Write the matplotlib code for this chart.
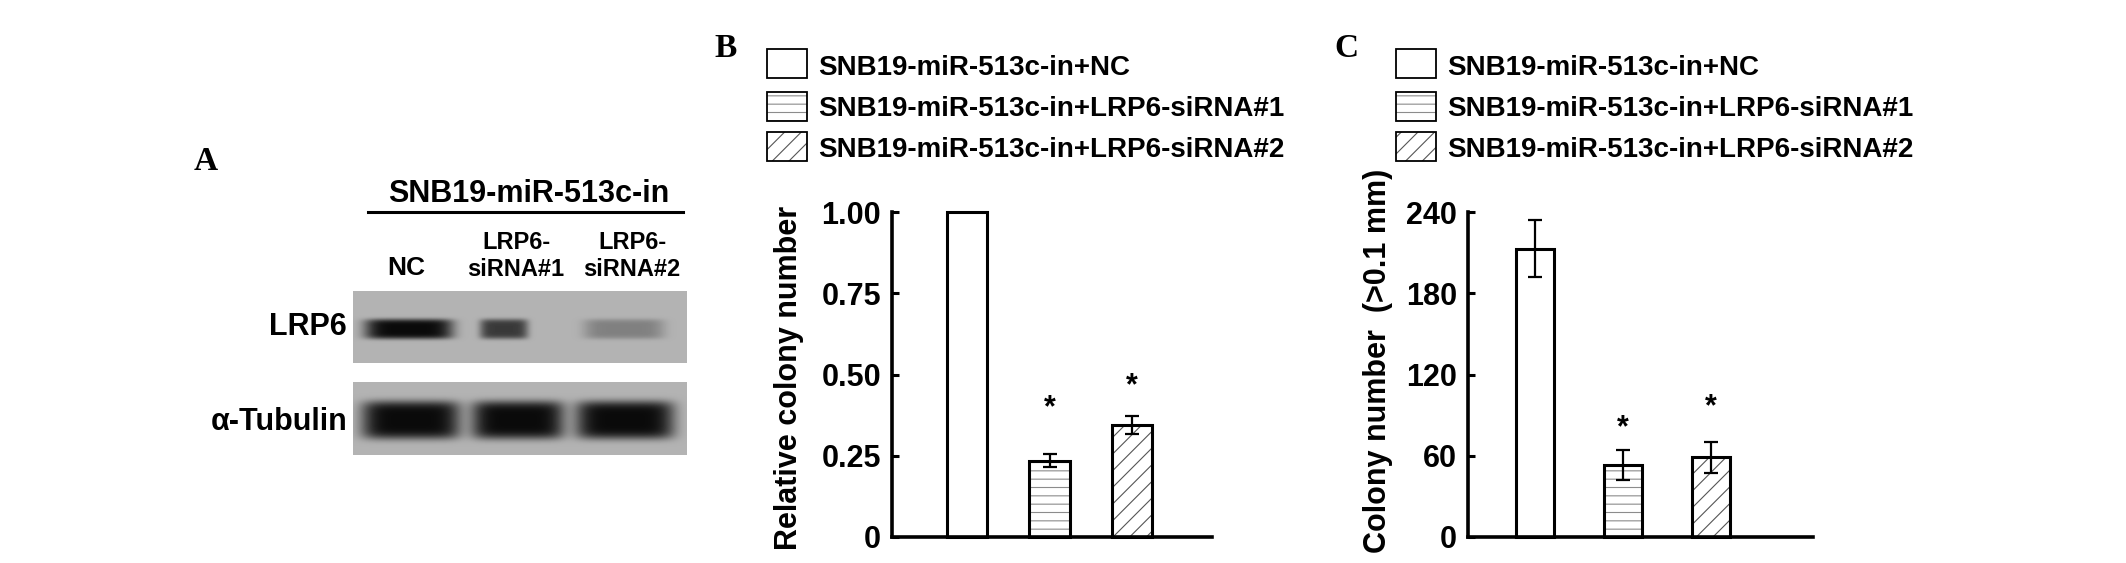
import numpy as np
import matplotlib
matplotlib.use("Agg")
import matplotlib.pyplot as plt
from matplotlib.patches import Rectangle

plt.rcParams['font.family'] = ['Liberation Sans', 'DejaVu Sans']
plt.rcParams['font.weight'] = 'bold'
plt.rcParams['hatch.linewidth'] = 0.8

# ---- data ----
groups = ["SNB19-miR-513c-in+NC",
          "SNB19-miR-513c-in+LRP6-siRNA#1",
          "SNB19-miR-513c-in+LRP6-siRNA#2"]
rel_colony = [1.0, 0.235, 0.345]
rel_err = [0.0, 0.021, 0.028]
colony_num = [213, 53, 59]
colony_err = [21, 11, 11.5]
significant = [False, True, True]

rel_ticks = [0, 0.25, 0.50, 0.75, 1.00]
rel_ticklabels = ["0", "0.25", "0.50", "0.75", "1.00"]
num_ticks = [0, 60, 120, 180, 240]
num_ticklabels = ["0", "60", "120", "180", "240"]

blot_title = "SNB19-miR-513c-in"
lane_labels = [["NC"], ["LRP6-", "siRNA#1"], ["LRP6-", "siRNA#2"]]
blot_rows = ["LRP6", "\u03b1-Tubulin"]
lrp6_intensity = [1.0, 0.72, 0.3]
tubulin_intensity = [1.0, 1.0, 1.0]

# ---- style ----
hatches = ['', '--', '//']
hatch_colors = ['white', '#8c8c8c', '#555555']
W, H = 2126, 563
BG = 0.70

fig = plt.figure(figsize=(W / 100, H / 100), dpi=100)

# overlay in pixel coordinates for panel A, legends and letters
ov = fig.add_axes([0, 0, 1, 1])
ov.axis('off')


def blot_image(x0, x1, y0, y1, centers, widths, cy, hh, intens):
    xs = np.arange(x0, x1) + 0.5
    ys = np.arange(y0, y1) + 0.5
    X, Y = np.meshgrid(xs, ys)
    img = np.full(X.shape, BG)
    for c, w, k in zip(centers, widths, intens):
        r = np.abs((X - c) / (w / 2)) ** 6 + np.abs((Y - cy) / hh) ** 5
        prof = np.exp(-r)
        img = img - (BG - 0.04) * k * prof
    return np.clip(img, 0, 1)


img1 = blot_image(353, 687, 291, 363, [409, 504, 624], [88, 48, 80], 329, 10, lrp6_intensity)
ov.imshow(img1, cmap='gray', vmin=0, vmax=1, extent=(353, 687, 363, 291),
          interpolation='bilinear', aspect='auto')
img2 = blot_image(353, 687, 382, 455, [411, 518, 625], [98, 92, 98], 420, 19, tubulin_intensity)
ov.imshow(img2, cmap='gray', vmin=0, vmax=1, extent=(353, 687, 455, 382),
          interpolation='bilinear', aspect='auto')
ov.set_xlim(0, W)
ov.set_ylim(H, 0)

ov.text(194, 170, "A", family='Liberation Serif', fontsize=24, fontweight='bold', va='baseline')
ov.text(529, 202, blot_title, fontsize=22, ha='center', va='baseline')
ov.plot([368, 683], [212, 212], color='black', lw=2.2)
lane_x = [406, 516, 632]
for x, lab in zip(lane_x, lane_labels):
    if len(lab) == 1:
        ov.text(x, 275, lab[0], fontsize=19, ha='center', va='baseline')
    else:
        ov.text(x, 249, lab[0], fontsize=17, ha='center', va='baseline')
        ov.text(x, 276, lab[1], fontsize=17, ha='center', va='baseline')
ov.text(347, 335, blot_rows[0], fontsize=22, ha='right', va='baseline')
ov.text(347, 430, blot_rows[1], fontsize=22, ha='right', va='baseline')


def legend_block(x_box, x_text, letter_x, letter):
    ov.text(letter_x, 57, letter, family='Liberation Serif', fontsize=24,
            fontweight='bold', va='baseline')
    tops = [49, 92, 132]
    bases = [75, 116, 157]
    for t, b, lab, h, hc in zip(tops, bases, groups, hatches, hatch_colors):
        ov.add_patch(Rectangle((x_box, t), 40, 29, facecolor='white', edgecolor=hc,
                               hatch=h, lw=0))
        ov.add_patch(Rectangle((x_box, t), 40, 29, facecolor='none', edgecolor='black', lw=1.3))
        ov.text(x_text, b, lab, fontsize=20, va='baseline')


legend_block(767, 818, 714, "B")
legend_block(1396, 1447, 1334, "C")


def bar_panel(rect, vals, errs, ticks, ticklabels, ymax, xlim, width, star_pad, ylabel, label_xy):
    ax = fig.add_axes(rect)
    x = np.arange(1, len(vals) + 1)
    for xi, v, h, hc in zip(x, vals, hatches, hatch_colors):
        ax.bar(xi, v, width, color='white', edgecolor=hc, hatch=h, lw=0, clip_on=False)
    ax.bar(x, vals, width, color='none', edgecolor='black', lw=2.2, clip_on=False, zorder=3)
    for xi, v, e in zip(x, vals, errs):
        if e > 0:
            ax.errorbar(xi, v, yerr=e, color='black', capsize=5, elinewidth=1.6,
                        capthick=1.6, zorder=4, clip_on=False)
    for xi, v, e, s, p in zip(x, vals, errs, significant, star_pad):
        if s:
            ax.text(xi, v + e + p, '*', fontsize=22, ha='center', va='center')
    ax.set_xlim(*xlim)
    ax.set_ylim(0, ymax)
    ax.set_yticks(ticks)
    ax.set_yticklabels(ticklabels)
    ax.set_xticks([])
    ax.tick_params(axis='y', direction='in', length=5, width=2.2, labelsize=22, pad=8)
    for t in ax.get_yticklabels():
        t.set_fontweight('bold')
    for s in ['top', 'right']:
        ax.spines[s].set_visible(False)
    for s in ['left', 'bottom']:
        ax.spines[s].set_linewidth(2.6)
    ax.patch.set_alpha(0)
    ov.text(label_xy[0], label_xy[1], ylabel, fontsize=22, rotation=90,
            ha='center', va='center')
    return ax


bar_panel([892 / W, 26 / H, 320 / W, 325 / H], rel_colony, rel_err, rel_ticks, rel_ticklabels,
          1.0, (0.09, 3.97), 0.49, [0, 0.14, 0.09], "Relative colony number", (789, 378))
bar_panel([1468 / W, 26 / H, 345 / W, 325 / H], colony_num, colony_err, num_ticks, num_ticklabels,
          240, (0.24, 4.16), 0.44, [0, 16, 25], "Colony number  (>0.1 mm)", (1378, 361))

fig.savefig("out.png", dpi=100)
